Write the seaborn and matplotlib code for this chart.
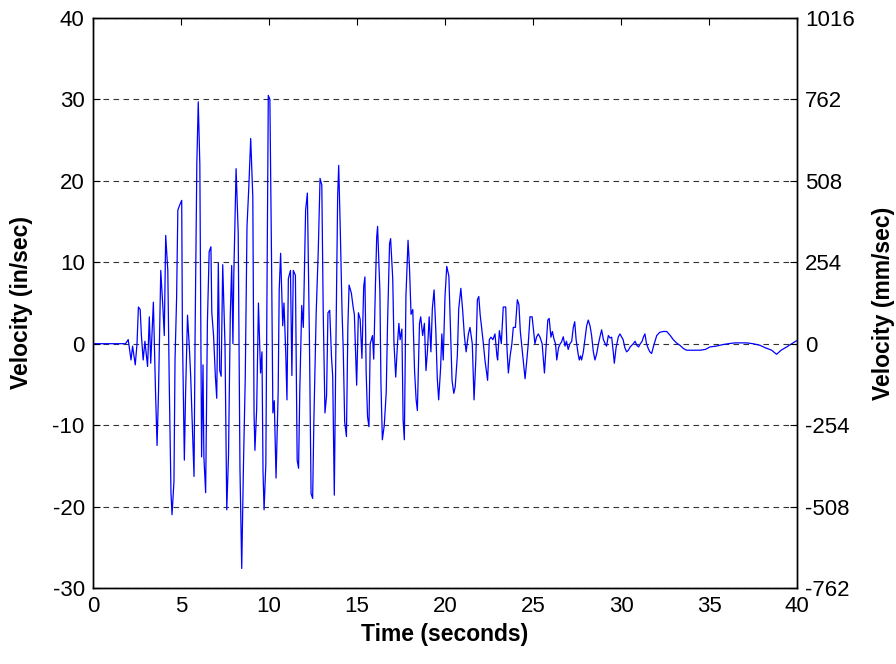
import numpy as np
import pandas as pd
import matplotlib
matplotlib.use("Agg")
import matplotlib.pyplot as plt
import seaborn as sns

# ground velocity time history, extrema
time_s = [
    0.0, 1.85, 2.0, 2.16, 2.25, 2.4, 2.5, 2.58, 2.68, 2.75, 2.85, 2.95, 3.1, 3.2, 3.28,
    3.43, 3.55, 3.64, 3.72, 3.85, 3.97, 4.05, 4.13, 4.25, 4.33, 4.43, 4.49, 4.6, 4.66,
    4.75, 4.82, 4.92, 5.04, 5.08, 5.19, 5.26, 5.37, 5.48, 5.55, 5.74, 5.8, 5.9, 5.98,
    6.07, 6.17, 6.25, 6.3, 6.4, 6.5, 6.6, 6.7, 6.75, 6.85, 6.95, 7.03, 7.12, 7.2, 7.28,
    7.37, 7.5, 7.6, 7.7, 7.8, 7.88, 7.95, 8.0, 8.13, 8.25, 8.35, 8.45, 8.55, 8.65, 8.75,
    8.85, 8.96, 9.08, 9.15, 9.2, 9.3, 9.4, 9.52, 9.6, 9.66, 9.72, 9.82, 9.9, 9.96, 10.05,
    10.15, 10.22, 10.3, 10.4, 10.52, 10.58, 10.66, 10.78, 10.85, 10.95, 11.02, 11.1,
    11.22, 11.3, 11.38, 11.5, 11.6, 11.68, 11.75, 11.86, 11.95, 12.08, 12.18, 12.3,
    12.39, 12.48, 12.55, 12.68, 12.8, 12.9, 13.0, 13.08, 13.18, 13.27, 13.35, 13.45,
    13.55, 13.62, 13.71, 13.8, 13.9, 13.96, 14.05, 14.15, 14.22, 14.3, 14.4, 14.48,
    14.55, 14.68, 14.78, 14.85, 14.98, 15.08, 15.18, 15.28, 15.38, 15.45, 15.52, 15.6,
    15.68, 15.75, 15.88, 15.95, 16.05, 16.12, 16.17, 16.3, 16.36, 16.44, 16.55, 16.66,
    16.74, 16.85, 16.91, 17.03, 17.1, 17.2, 17.3, 17.38, 17.45, 17.55, 17.62, 17.69,
    17.78, 17.9, 17.98, 18.07, 18.17, 18.27, 18.36, 18.43, 18.55, 18.62, 18.73, 18.83,
    18.92, 19.0, 19.1, 19.2, 19.28, 19.38, 19.48, 19.56, 19.64, 19.75, 19.82, 19.9,
    20.0, 20.1, 20.22, 20.3, 20.4, 20.5, 20.58, 20.7, 20.78, 20.9, 21.0, 21.1, 21.2,
    21.33, 21.42, 21.55, 21.65, 21.75, 21.84, 21.92, 22.0, 22.08, 22.18, 22.27, 22.42,
    22.52, 22.61, 22.72, 22.84, 22.95, 22.99, 23.09, 23.2, 23.31, 23.45, 23.52, 23.6,
    23.7, 23.8, 23.88, 24.0, 24.11, 24.2, 24.28, 24.36, 24.45, 24.55, 24.65, 24.73,
    24.83, 24.95, 25.03, 25.11, 25.2, 25.3, 25.4, 25.52, 25.65, 25.74, 25.84, 25.92,
    26.02, 26.1, 26.2, 26.28, 26.35, 26.45, 26.55, 26.62, 26.72, 26.82, 26.9, 27.0,
    27.1, 27.2, 27.29, 27.37, 27.45, 27.56, 27.63, 27.7, 27.76, 27.86, 27.95, 28.05,
    28.14, 28.24, 28.33, 28.43, 28.52, 28.62, 28.72, 28.8, 28.9, 29.0, 29.1, 29.18,
    29.28, 29.38, 29.47, 29.56, 29.62, 29.72, 29.85, 29.94, 30.03, 30.12, 30.22, 30.32,
    30.42, 30.52, 30.7, 30.8, 30.9, 31.0, 31.1, 31.2, 31.28, 31.36, 31.45, 31.55, 31.64,
    31.74, 31.85, 32.03, 32.2, 32.4, 32.6, 32.8, 32.97, 33.15, 33.35, 33.55, 33.73,
    34.1, 34.49, 34.8, 35.05, 35.4, 35.81, 36.1, 36.47, 36.8, 37.14, 37.5, 37.9, 38.2,
    38.56, 38.84, 39.1, 39.41, 39.7, 40.0,
]
vel_in = [
    0.0, 0.0, 0.5, -2.0, -0.3, -2.6, 0.0, 4.5, 4.2, 1.0, -2.0, 0.3, -2.8, 3.3, -2.4,
    5.1, -5.7, -12.5, -6.1, 9.0, 4.5, 1.0, 13.3, 9.0, -4.5, -18.3, -21.0, -16.9, -2.0,
    5.6, 16.4, 17.0, 17.6, 1.5, -14.3, -6.1, 3.5, -0.7, -4.0, -16.3, 1.0, 22.2, 29.7,
    22.0, -13.9, -2.6, -13.9, -18.3, 2.6, 11.3, 11.9, 3.8, 1.0, -3.9, -6.7, 9.9, -3.3, -4.0,
    9.7, -0.2, -20.4, -13.7, 3.5, 9.6, 0.0, 8.4, 21.5, 13.6, -15.3, -27.6, -14.8, -4.3, 14.4,
    19.1, 25.2, 18.0, -8.5, -13.1, -8.0, 5.0, -3.6, -1.0, -15.7, -20.4, -14.8, 10.0, 30.5, 30.0,
    9.0, -8.5, -7.0, -16.5, -6.0, 6.6, 11.1, 2.2, 5.0, -1.0, -6.9, 8.0,
    9.0, -3.9, 9.0, 8.4, -14.3, -15.3, -5.7, 4.7, 2.0, 16.4, 18.5, 0.0,
    -18.4, -19.0, -9.4, 3.7, 11.5, 20.3, 19.5, 4.0, -8.5, -6.4, 3.8, 4.1,
    -1.6, -4.0, -18.6, -0.5, 18.0, 21.9, 14.0, 4.0, -0.9, -9.6, -11.4, 2.0,
    7.2, 6.2, 4.5, 3.6, -5.1, 3.8, 3.0, -1.8, 7.0, 8.2, -3.5, -9.0,
    -10.2, 0.0, 1.0, -1.9, 7.4, 13.1, 14.4, 6.5, -4.8, -11.8, -10.0, -6.0,
    2.9, 12.3, 12.9, 8.0, 0.1, -4.1, 0.0, 2.5, 0.5, 1.8, -9.4, -11.8,
    5.8, 12.7, 9.5, 3.6, 4.2, -3.3, -6.9, -8.2, 2.5, 3.3, 1.0, 2.5,
    -3.3, -1.0, 3.3, -1.0, 4.3, 6.6, 1.5, -4.2, -6.9, -3.0, 1.2, -2.0,
    5.8, 9.5, 8.3, 2.5, -4.5, -6.1, -5.3, -1.5, 4.3, 6.8, 4.2, 1.0, -1.0,
    1.2, 2.0, 0.0, -6.9, -2.0, 5.4, 5.8, 3.5, 2.0, 0.0, -2.0, -4.5,
    0.5, 0.8, 0.5, 1.2, -1.5, -2.0, 1.6, 0.0, 4.5, 4.5, -0.5, -3.6,
    -1.5, 0.0, 2.0, 2.0, 5.4, 4.8, 1.5, -0.2, -2.0, -4.3, -2.0, 0.0,
    3.3, 3.3, 1.6, 0.0, 0.8, 1.2, 0.8, 0.0, -3.6, -0.5, 2.9, 3.1,
    0.8, 1.5, 0.5, 0.0, -2.0, -0.5, 0.0, 0.2, 0.85, -0.3, 0.3, -0.7,
    0.0, 0.3, 2.0, 2.7, 0.5, -1.2, -2.0, -1.5, -2.0, -1.0, 0.5, 2.2,
    2.9, 2.2, 1.0, -1.0, -2.0, -1.2, 0.0, 0.8, 1.7, 0.5, 0.0, -0.3,
    1.0, 0.7, 0.8, -1.0, -2.4, -0.5, 0.85, 1.2, 0.85, 0.5, -0.5, -1.0,
    -0.8, -0.4, 0.0, 0.3, -0.2, -0.4, 0.0, 0.3, 0.85, 1.2, 0.0, -0.6, -1.0,
    -1.2, -0.3, 1.0, 1.4, 1.5, 1.5, 1.0, 0.5, 0.1, -0.2, -0.6, -0.8,
    -0.8, -0.8, -0.7, -0.4, -0.3, -0.1, 0.0, 0.1, 0.1, 0.1, 0.0, -0.2, -0.5,
    -0.8, -1.3, -0.8, -0.4, 0.0, 0.4,
]

left_ticks = [-30, -20, -10, 0, 10, 20, 30, 40]
right_ticks = [-762, -508, -254, 0, 254, 508, 762, 1016]
x_ticks = [0, 5, 10, 15, 20, 25, 30, 35, 40]

df = pd.DataFrame({"time": time_s, "vel": vel_in})

sns.set_style("white")
plt.rcParams["font.family"] = ["Liberation Sans", "DejaVu Sans"]
plt.rcParams["axes.unicode_minus"] = False
plt.rcParams["text.color"] = "black"
plt.rcParams["axes.labelcolor"] = "black"
plt.rcParams["xtick.color"] = "black"
plt.rcParams["ytick.color"] = "black"

fig = plt.figure(figsize=(8.96, 6.64), dpi=100)
ax = fig.add_axes([0.1038, 0.1145, 0.7857, 0.8584])

sns.lineplot(data=df, x="time", y="vel", ax=ax, color="#0000ff", lw=0.9,
             sort=False, estimator=None)

ax.set_xlim(0, 40)
ax.set_ylim(-30, 40)
ax.set_xticks(x_ticks)
ax.set_yticks(left_ticks)
ax.yaxis.grid(True, linestyle=(0, (5, 4)), color="#333333", lw=0.8)
ax.xaxis.grid(False)
ax.set_xlabel("Time (seconds)", fontsize=16.5, fontweight="bold", labelpad=4)
ax.set_ylabel("Velocity (in/sec)", fontsize=16.5, fontweight="bold", labelpad=14)
ax.tick_params(axis="both", direction="in", length=5, labelsize=16, color="k",
               labelcolor="k", top=True, right=False, pad=6)
for sp in ax.spines.values():
    sp.set_color("k")
    sp.set_linewidth(1.0)

ax2 = ax.twinx()
ax2.set_ylim(-30 * 25.4, 40 * 25.4)
ax2.set_yticks(right_ticks)
ax2.set_yticklabels([str(v) for v in right_ticks])
ax2.tick_params(axis="y", direction="in", length=5, labelsize=16, color="k",
                labelcolor="k", pad=6)
ax2.set_ylabel("Velocity (mm/sec)", fontsize=16.5, fontweight="bold", labelpad=12)
ax2.grid(False)
for sp in ax2.spines.values():
    sp.set_color("k")
    sp.set_linewidth(1.0)

fig.savefig("out.png", dpi=100)
